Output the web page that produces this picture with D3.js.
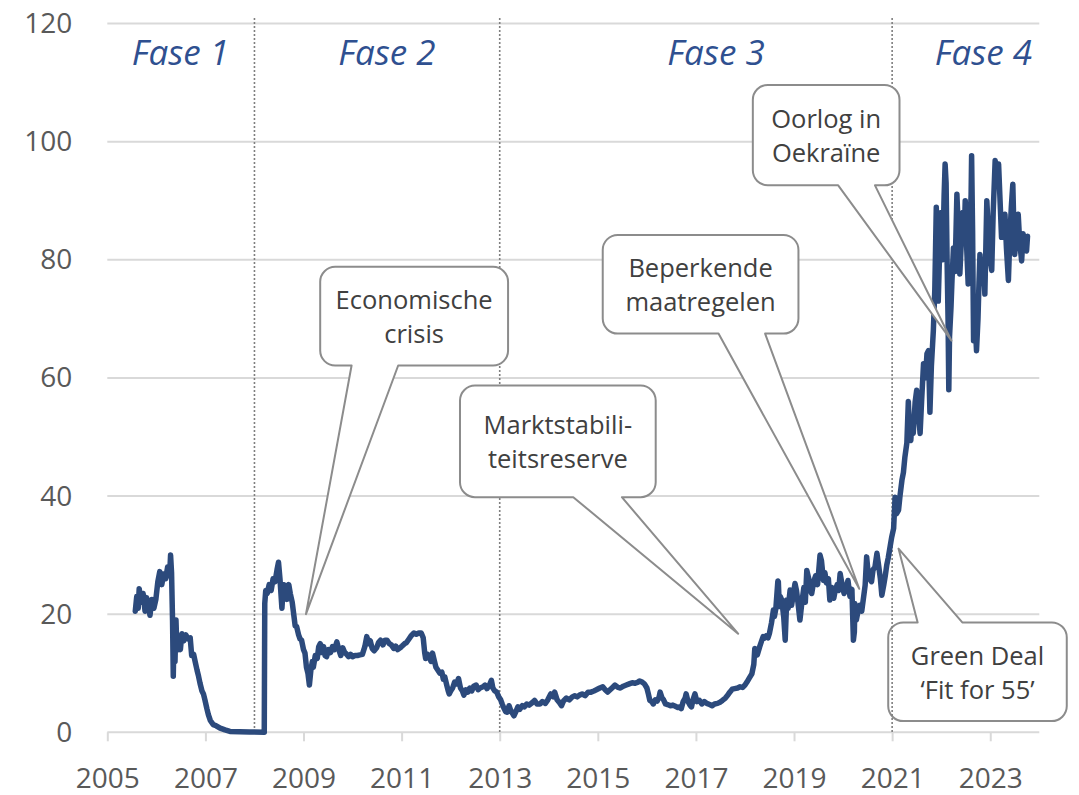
<!DOCTYPE html>
<html>
<head>
<meta charset="utf-8">
<script src="https://cdn.jsdelivr.net/npm/d3@7"></script>
<style>
  html, body { margin: 0; padding: 0; background: #ffffff; }
  svg { display: block; }
</style>
</head>
<body>
<svg id="chart" width="1079" height="795"></svg>
<script>
// ---------- DATA ----------
const dates = [
2005.57,2005.60,2005.63,2005.65,2005.69,2005.73,2005.77,2005.80,2005.84,2005.87,2005.91,2005.95,2005.99,
2006.03,2006.07,2006.11,2006.15,2006.19,2006.23,2006.27,2006.29,2006.31,2006.33,2006.345,2006.36,2006.38,2006.40,2006.42,
2006.45,2006.49,2006.52,2006.56,2006.60,2006.65,2006.69,2006.72,2006.76,2006.79,2006.83,2006.86,2006.89,2006.93,2006.96,2006.99,
2007.03,2007.06,2007.10,2007.16,2007.22,2007.30,2007.40,2007.50,2007.70,2007.90,2008.20,
2008.21,2008.23,2008.26,2008.30,2008.34,2008.38,2008.42,2008.46,2008.49,2008.52,2008.56,2008.59,2008.62,2008.66,2008.70,2008.73,
2008.77,2008.80,2008.83,2008.86,2008.90,2008.93,2008.96,2009.00,2009.03,2009.06,2009.09,2009.12,2009.15,2009.18,2009.20,2009.24,
2009.28,2009.31,2009.34,2009.38,2009.41,2009.44,2009.47,2009.51,2009.55,2009.59,2009.63,2009.68,2009.72,2009.76,2009.80,2009.84,
2009.87,2009.92,2009.96,2010.00,2010.05,2010.10,2010.15,2010.20,2010.25,2010.29,2010.32,2010.36,2010.40,2010.44,2010.49,2010.53,
2010.57,2010.62,2010.66,2010.70,2010.75,2010.79,2010.84,2010.88,2010.92,2010.97,2011.01,2011.06,2011.10,2011.15,2011.20,2011.25,
2011.30,2011.35,2011.40,2011.44,2011.47,2011.49,2011.53,2011.57,2011.60,2011.63,2011.67,2011.70,2011.74,2011.78,2011.82,2011.85,
2011.88,2011.92,2011.95,2011.97,2012.00,2012.04,2012.08,2012.12,2012.16,2012.20,2012.24,2012.27,2012.31,2012.35,2012.39,2012.43,
2012.47,2012.52,2012.56,2012.60,2012.66,2012.70,2012.74,2012.79,2012.83,2012.86,2012.90,2012.94,2012.98,2013.02,2013.05,2013.08,
2013.12,2013.15,2013.19,2013.22,2013.26,2013.29,2013.33,2013.37,2013.41,2013.46,2013.50,2013.55,2013.60,2013.66,2013.71,2013.76,
2013.82,2013.87,2013.93,2013.98,2014.04,2014.09,2014.12,2014.17,2014.22,2014.26,2014.30,2014.36,2014.42,2014.48,2014.53,2014.58,
2014.63,2014.68,2014.74,2014.80,2014.86,2014.92,2014.97,2015.04,2015.10,2015.15,2015.20,2015.25,2015.30,2015.35,2015.41,2015.46,
2015.52,2015.58,2015.64,2015.70,2015.76,2015.82,2015.85,2015.90,2015.95,2016.00,2016.03,2016.06,2016.10,2016.13,2016.17,2016.21,
2016.25,2016.27,2016.31,2016.34,2016.38,2016.42,2016.48,2016.53,2016.58,2016.63,2016.67,2016.70,2016.74,2016.78,2016.80,2016.84,
2016.88,2016.91,2016.94,2016.98,2017.02,2017.07,2017.12,2017.17,2017.22,2017.28,2017.33,2017.38,2017.44,2017.49,2017.54,2017.60,
2017.65,2017.69,2017.74,2017.79,2017.85,2017.90,2017.95,2018.00,2018.04,2018.09,2018.14,2018.18,2018.20,2018.25,2018.30,2018.34,
2018.37,2018.39,2018.43,2018.47,2018.50,2018.54,2018.58,2018.60,2018.63,2018.67,2018.68,2018.70,2018.72,2018.75,2018.79,2018.82,
2018.85,2018.88,2018.92,2018.95,2019.02,2019.05,2019.08,2019.12,2019.16,2019.20,2019.23,2019.26,2019.30,2019.33,2019.36,2019.40,
2019.44,2019.48,2019.53,2019.56,2019.60,2019.63,2019.66,2019.70,2019.73,2019.77,2019.81,2019.84,2019.88,2019.91,2019.94,2019.98,
2020.02,2020.06,2020.10,2020.14,2020.18,2020.21,2020.23,2020.24,2020.27,2020.31,2020.34,2020.38,2020.42,2020.45,2020.48,2020.51,
2020.54,2020.58,2020.61,2020.65,2020.69,2020.72,2020.76,2020.79,2020.83,2020.86,2020.89,2020.92,2020.96,2020.99,2021.03,2021.06,
2021.09,2021.13,2021.16,2021.20,2021.23,2021.26,2021.30,2021.33,2021.36,2021.38,2021.41,2021.43,2021.47,2021.50,2021.53,2021.57,
2021.60,2021.64,2021.68,2021.71,2021.74,2021.77,2021.80,2021.84,2021.87,2021.90,2021.92,2021.94,2021.97,2022.00,2022.03,2022.06,
2022.08,2022.10,2022.12,2022.14,2022.155,2022.17,2022.20,2022.22,2022.25,2022.28,2022.30,2022.32,2022.35,2022.38,2022.41,2022.44,
2022.47,2022.49,2022.52,2022.55,2022.58,2022.61,2022.62,2022.64,2022.66,2022.69,2022.72,2022.75,2022.77,2022.79,2022.82,2022.86,
2022.89,2022.91,2022.93,2022.96,2023.00,2023.03,2023.06,2023.10,2023.13,2023.17,2023.20,2023.23,2023.27,2023.30,2023.33,2023.37,
2023.40,2023.43,2023.46,2023.48,2023.50,2023.53,2023.57,2023.60,2023.64,2023.67,2023.70,2023.74,2023.76
];
const prices = [
20.5,23,21,24.3,22,23.5,20.5,22.8,21.5,19.8,22.5,21,22.5,
25.5,27.2,25,26.8,26,28,26.5,30,27,19,9.5,17,12,19,13.9,
15.5,14,16.7,15.5,16.5,15.8,16,13,13.2,12,10.5,9.5,8.3,7,6.5,5.5,
4,3,2,1.3,1.1,0.7,0.4,0.15,0.1,0.05,0.02,
21.8,24,23.5,25,24,26,25.5,27.5,28.8,26,21,25,24.9,22.5,25,23.5,
22,20,18,17.9,16.5,15.8,15.6,14,13.4,11,10,8,10.5,12,11,13,
12.5,14.5,15,13.5,14.5,13,12.8,14,13.5,14.5,14,15.3,14,13,14.3,13.5,
13.3,12.8,13.2,12.8,13,13,13.1,13.2,14.5,16.2,15,15.5,14.2,13.8,14.3,15.2,
15.6,14.8,15.6,15.6,15,14.8,14.2,14.6,14,14.3,14.6,15,15.2,15.8,16.4,16.8,
16.6,16.8,16.8,16,13.5,12.5,13.2,12.6,12,13.4,12,11,10.5,10,10.2,9,
9.4,8,7,6.5,7,7.5,8.5,8.2,9.1,7.5,7,6.3,7.2,6.8,7.5,7,
7.8,8,7.2,7.5,7.7,8,7.4,8,8.8,7.5,7,6.8,6,5.5,4.8,4.2,
3.5,3.4,4.5,3.8,3.2,2.8,3.5,4.3,3.9,4.5,4.3,4.8,4.6,5.0,5.4,4.8,
4.8,5.2,4.9,5.5,6.5,6,6.8,5.5,5,4.5,5.3,5.8,5.5,6,6.2,6,
6.3,6.5,6.2,6.8,6.8,7,7.2,7.5,7.7,7.2,6.8,7.2,7.6,8,7.6,7.5,
7.8,8,8.2,8.4,8.3,8.5,8.7,8.5,8.2,7.5,6.5,5.4,5.2,4.8,5.5,5.3,
6,6.8,5.8,5.5,4.8,4.7,4.5,4.6,4.4,4.2,4.3,4,5.2,5.8,6.5,5.2,
4.6,4.3,5.5,6.5,5.2,5.4,4.8,5.2,4.9,4.7,4.5,4.8,4.9,5.1,5.4,5.8,
6.3,6.8,7.3,7.4,7.5,7.7,7.6,8,8.5,9.2,9.9,11.5,14.2,13.1,14.5,15.5,
16.2,15.9,16.3,16,16.8,18.5,20.7,19.6,21,25.6,25.5,21.3,23,22.4,19.5,15.6,
22.4,21,24.1,21.5,25.2,24,22,19,22,24.5,22,27.4,26,24,23.5,25.5,
26.5,25,30,29,25.7,27,25.3,26,22.4,24.5,22.7,24,25,24,26.9,25,
23.5,24.5,25.7,23,24.2,15.6,17,21.8,19,20.7,21.5,20.5,23,24.9,29.7,27,
26,25.5,27.5,28,30.3,28.5,26,23.2,25,26.5,28.3,29.5,31.5,33,34.5,39.8,
37,37.6,40,42.7,44,46.6,49,56,50,49.4,53,50.6,56,57.9,55,50.6,
56,62.4,60,64.1,64.6,54.2,62,68,75,88.9,80,73,82,88,80,91,
96.2,93,80,70,58,67,72,76.5,82,78,84,91.1,85,77.6,83,88,
84,90,82,75.9,85,91,97.6,85,66.3,70,64.6,70,76,80.9,76,80,
74.2,82,90,85,80,78.2,88,96.8,94,96.2,90,83.8,86,87.7,82,76.5,
84,89,92.8,86,80.9,85,87.7,83,79.8,84.4,82,81.5,84
];

const yTicks = [0, 20, 40, 60, 80, 100, 120];
const xTickYears = [2005, 2007, 2009, 2011, 2013, 2015, 2017, 2019, 2021, 2023];
const phaseBoundaries = [2008, 2013, 2021];
const phaseLabels = ["Fase 1", "Fase 2", "Fase 3", "Fase 4"];
const phaseLabelYears = [2006.49, 2010.70, 2017.41, 2022.86];

const calloutTexts = [
  ["Economische", "crisis"],
  ["Marktstabili-", "teitsreserve"],
  ["Beperkende", "maatregelen"],
  ["Oorlog in", "Oekraïne"],
  ["Green Deal", "‘Fit for 55’"]
];
// callout layout in data units: box [leftYear, rightYear, topValue, bottomValue]
const calloutBoxes = [
  [2009.34, 2013.17, 78.8, 62.1],
  [2012.19, 2016.18, 58.7, 39.8],
  [2015.10, 2019.09, 84.2, 67.5],
  [2018.16, 2021.15, 109.6, 92.6],
  [2020.92, 2024.56, 18.6, 1.9]
];
// tail: [baseYear1, baseYear2, tipYear, tipValue, side]
const calloutTails = [
  [2009.98, 2010.93, 2009.05, 20.0, "bottom"],
  [2014.50, 2015.49, 2017.86, 16.7, "bottom"],
  [2017.46, 2018.41, 2020.33, 24.3, "bottom"],
  [2019.90, 2020.65, 2022.21, 66.3, "bottom"],
  [2021.52, 2022.43, 2021.13, 31.1, "top"]
];

// ---------- CHART ----------
const svg = d3.select("#chart");
const x = d3.scaleLinear().domain([2005, 2024]).range([107.3, 1039.3]);
const y = d3.scaleLinear().domain([0, 120]).range([732.3, 23.5]);

const FONT = "'Open Sans', 'Noto Sans', sans-serif";
const gridColor = "#d9d9d9";

// gridlines
svg.append("g").selectAll("line").data(yTicks).join("line")
  .attr("x1", x(2005)).attr("x2", x(2024))
  .attr("y1", d => y(d)).attr("y2", d => y(d))
  .attr("stroke", gridColor).attr("stroke-width", 2);

// x axis
const xAxis = d3.axisBottom(x).tickValues(xTickYears).tickFormat(d3.format("d")).tickSize(9).tickPadding(26);
const gx = svg.append("g").attr("transform", `translate(0,${y(0)})`).call(xAxis);
gx.select(".domain").remove();
gx.selectAll(".tick line").attr("stroke", gridColor).attr("stroke-width", 2);
gx.selectAll(".tick text").attr("font-family", FONT).attr("font-size", 28).attr("fill", "#595959").attr("dy", 0).attr("y", 56);

// y axis labels
const yAxis = d3.axisLeft(y).tickValues(yTicks).tickSize(0).tickPadding(35);
const gy = svg.append("g").attr("transform", `translate(${x(2005)},0)`).call(yAxis);
gy.select(".domain").remove();
gy.selectAll(".tick text").attr("font-family", FONT).attr("font-size", 28).attr("fill", "#595959");

function calloutPath(i) {
  const [lx, rx, tv, bv] = calloutBoxes[i];
  const [b1y, b2y, ty, tv2, side] = calloutTails[i];
  const x0 = x(lx), x1 = x(rx), y0 = y(tv), y1 = y(bv), r = 15;
  const b1 = x(b1y), b2 = x(b2y), tx = x(ty), tyy = y(tv2);
  let p = `M${x0 + r},${y0}`;
  if (side === "top") p += `L${b1},${y0}L${tx},${tyy}L${b2},${y0}`;
  p += `L${x1 - r},${y0}A${r},${r} 0 0 1 ${x1},${y0 + r}`;
  p += `L${x1},${y1 - r}A${r},${r} 0 0 1 ${x1 - r},${y1}`;
  if (side === "bottom") p += `L${b2},${y1}L${tx},${tyy}L${b1},${y1}`;
  p += `L${x0 + r},${y1}A${r},${r} 0 0 1 ${x0},${y1 - r}`;
  p += `L${x0},${y0 + r}A${r},${r} 0 0 1 ${x0 + r},${y0}Z`;
  return p;
}

function drawCallout(layer, i) {
  const g = layer.append("g");
  g.append("path").attr("d", calloutPath(i))
    .attr("fill", "#ffffff").attr("stroke", "#8c8c8c").attr("stroke-width", 2)
    .attr("stroke-linejoin", "round");
  const [lx, rx, tv, bv] = calloutBoxes[i];
  const cx = (x(lx) + x(rx)) / 2, cy = (y(tv) + y(bv)) / 2;
  const lines = calloutTexts[i];
  g.selectAll("text").data(lines).join("text")
    .attr("x", cx).attr("y", (d, k) => cy + (k - (lines.length - 1) / 2) * 34)
    .attr("text-anchor", "middle").attr("dominant-baseline", "central")
    .attr("font-family", FONT).attr("font-size", 25.5).attr("fill", "#404040")
    .text(d => d);
}

// Green Deal callout sits under the phase line
const lowLayer = svg.append("g");
drawCallout(lowLayer, 4);

// phase boundaries
svg.append("g").selectAll("line").data(phaseBoundaries).join("line")
  .attr("x1", d => x(d)).attr("x2", d => x(d))
  .attr("y1", 18).attr("y2", y(0))
  .attr("stroke", "#7f7f7f").attr("stroke-width", 1.6).attr("stroke-dasharray", "2,2");

// phase labels
svg.append("g").selectAll("text").data(phaseLabels).join("text")
  .attr("x", (d, i) => x(phaseLabelYears[i])).attr("y", 65)
  .attr("text-anchor", "middle")
  .attr("font-family", FONT).attr("font-style", "italic").attr("font-size", 35)
  .attr("fill", "#2f5090")
  .text(d => d);

// price line
const series = dates.map((d, i) => [d, prices[i]]);
svg.append("path").datum(series)
  .attr("d", d3.line().x(d => x(d[0])).y(d => y(d[1])))
  .attr("fill", "none").attr("stroke", "#2c4a7c").attr("stroke-width", 5.5)
  .attr("stroke-linejoin", "round").attr("stroke-linecap", "round");

// other callouts on top
const topLayer = svg.append("g");
[0, 1, 2, 3].forEach(i => drawCallout(topLayer, i));
</script>
</body>
</html>
